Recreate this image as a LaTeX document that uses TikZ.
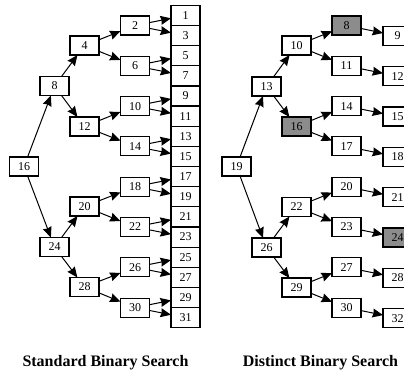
\documentclass[tikz,border=0pt]{standalone}
\usepackage{fontspec}
\setmainfont{Liberation Serif}
\usetikzlibrary{arrows.meta}
\tikzset{
    box/.style={
        draw,
        line width=1.2pt,
        fill=white,
        minimum width=29pt,
        minimum height=19pt,
        inner sep=0pt,
        outer sep=0pt,
        font=\fontsize{12}{12}\selectfont
    },
    hit/.style={box,fill=black!45},
    leaf/.style={box,minimum height=20.15pt},
    arr/.style={-{Stealth[length=10.5pt,width=9pt,inset=1pt]},line width=1pt},
    caption/.style={anchor=base,font=\bfseries\fontsize{16}{16}\selectfont}
}
\newcommand{\bnode}[5][box] {
    \node[#1] (#2) at ({#3}, {#4}) {#5};
}
\newcommand{\link}[2] {
    \draw[arr] (#1) -- (#2);
}

\begin{document}
\begin{tikzpicture}[x=1pt,y=-1pt]
    \useasboundingbox (0,0) rectangle (404,371);
    \clip (0,0) rectangle (404,371);
    % standard search tree
    \bnode{s16}{24}{166.5}{16}
    \bnode{s8}{54.5}{86}{8}
    \bnode{s24}{54.5}{247}{24}
    \bnode{s4}{84.5}{45.5}{4}
    \bnode{s12}{84.5}{126.5}{12}
    \bnode{s20}{84.5}{206.5}{20}
    \bnode{s28}{84.5}{287}{28}
    \foreach \v [count=\j from 0] in {2,6,...,30} {
        \bnode{s\v}{135}{25.5+40.3*\j}{\v}
    }
    \foreach \v [count=\i from 0] in {1,3,...,31} {
        \bnode[leaf]{s\v}{185.5}{15.4+20.15*\i}{\v}
    }
    \foreach \a/\b in {16/8,16/24,8/4,8/12,24/20,24/28,
                       4/2,4/6,12/10,12/14,20/18,20/22,28/26,28/30} {
        \link{s\a}{s\b}
    }
    \foreach \v in {2,6,...,30} {
        \pgfmathtruncatemacro\lo{\v-1}
        \pgfmathtruncatemacro\hi{\v+1}
        \link{s\v}{s\lo}
        \link{s\v}{s\hi}
    }
    % distinct search tree
    \bnode{d19}{236.5}{166.5}{19}
    \bnode{d13}{266.5}{86.5}{13}
    \bnode{d26}{266.5}{247.5}{26}
    \bnode{d10}{296.5}{45.5}{10}
    \bnode[hit]{d16}{296.5}{126.5}{16}
    \bnode{d22}{296.5}{207}{22}
    \bnode{d29}{296.5}{287.5}{29}
    \foreach \v/\w [count=\j from 0] in {8/9,11/12,14/15,17/18,
                                       20/21,23/24,27/28,30/32} {
        \ifnum\v=8
            \bnode[hit]{d\v}{346.5}{25.5+40.3*\j}{\v}
        \else
            \bnode{d\v}{346.5}{25.5+40.3*\j}{\v}
        \fi
        \ifnum\w=24
            \bnode[hit]{d\w}{397.5}{36+40.3*\j}{\w}
        \else
            \bnode{d\w}{397.5}{36+40.3*\j}{\w}
        \fi
        \link{d\v}{d\w}
    }
    \foreach \a/\b in {19/13,19/26,13/10,13/16,26/22,26/29,
                       10/8,10/11,16/14,16/17,22/20,22/23,29/27,29/30} {
        \link{d\a}{d\b}
    }
    % captions
    \node[caption] (cstd) at (105.5,366) {Standard Binary Search};
    \node[caption] (cdst) at (320.5,366) {Distinct Binary Search};
\end{tikzpicture}
\end{document}
